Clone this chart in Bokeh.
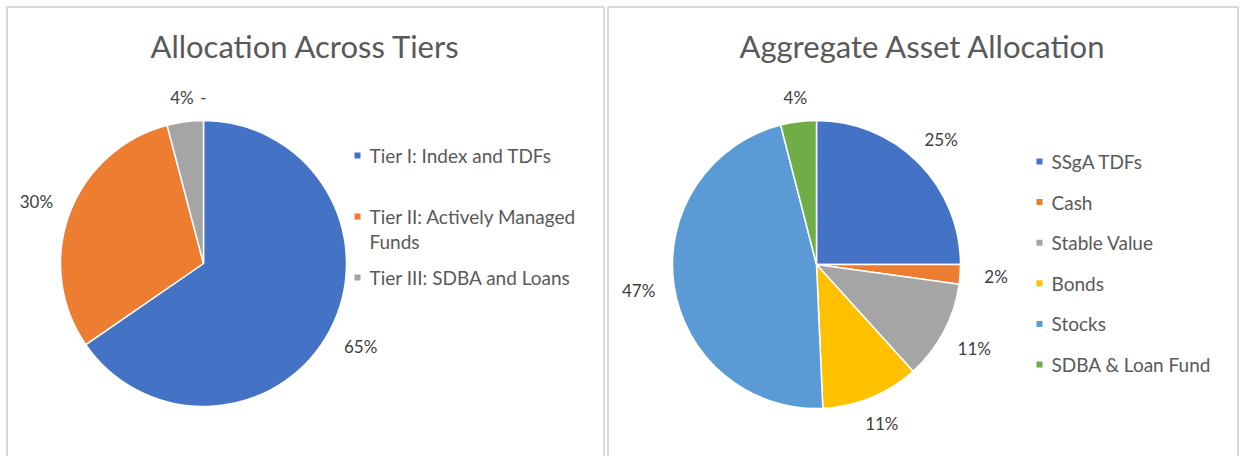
import math
import textwrap
from bokeh.plotting import figure
from bokeh.layouts import row
from bokeh.models import Range1d, ColumnDataSource
from bokeh.core.properties import value
from bokeh.embed import file_html
from bokeh.resources import INLINE

# ---------------- data ----------------
tier_title = "Allocation Across Tiers"
tier_names = ["Tier I: Index and TDFs", "Tier II: Actively Managed Funds", "Tier III: SDBA and Loans", ""]
tier_values = [65.4, 30.5, 4.1, 0.0]
tier_labels = ["65%", "30%", "4%", "-"]
tier_colors = ["#4472C4", "#ED7D31", "#A5A5A5", "#FFC000"]

asset_title = "Aggregate Asset Allocation"
asset_names = ["SSgA TDFs", "Cash", "Stable Value", "Bonds", "Stocks", "SDBA & Loan Fund"]
asset_values = [25.0, 2.2, 11.1, 11.0, 46.7, 4.0]
asset_labels = ["25%", "2%", "11%", "11%", "47%", "4%"]
asset_colors = ["#4472C4", "#ED7D31", "#A5A5A5", "#FFC000", "#5B9BD5", "#70AD47"]

FONT = "Lato"
H = 456


def make_panel(W, x0, title, names, values, labels, colors, cx, cy, r,
               leg_x, leg_y0, leg_step, wrap, line_h, right_border):
    p = figure(width=W, height=H, x_range=Range1d(0, W), y_range=Range1d(0, H),
               output_backend="svg", toolbar_location=None,
               x_axis_location=None, y_axis_location=None, min_border=0)
    p.grid.visible = False
    p.outline_line_color = None
    p.background_fill_color = "white"

    # panel border (left, top, right)
    p.multi_line(xs=[[x0, x0, right_border, right_border]],
                 ys=[[0, H - 6.5, H - 6.5, 0]],
                 line_color="#D9D9D9", line_width=2)

    total = sum(values)
    starts, ends, mids, cols = [], [], [], []
    cum = 0.0
    for v, col in zip(values, colors):
        f0 = cum / total
        cum += v
        f1 = cum / total
        mids.append((f0 + f1) / 2)
        if v > 0:
            starts.append(math.pi / 2 - 2 * math.pi * f0)
            ends.append(math.pi / 2 - 2 * math.pi * f1)
            cols.append(col)

    src = ColumnDataSource(dict(start=starts, end=ends, color=cols))
    p.wedge(x=cx, y=cy, radius=r, start_angle="start", end_angle="end",
            direction="clock", fill_color="color", line_color="white",
            line_width=1.5, source=src)

    # data labels (outside end)
    lx, ly = [], []
    for m in mids:
        a = 2 * math.pi * m
        s, c = math.sin(a), math.cos(a)
        d = r + 23 + 13 * abs(s)
        lx.append(cx + d * s)
        ly.append(cy + d * c)
    p.text(x=lx, y=ly, text=labels, text_font=value(FONT), text_font_size="17px",
           text_color="#404040", text_align="center", text_baseline="middle")

    # title
    p.text(x=[(x0 + right_border) / 2], y=[H - 45], text=[title], text_font=value(FONT),
           text_font_size="31px", text_color="#595959",
           text_align="center", text_baseline="middle")

    # legend
    mx, my, tx, ty, tt, mc = [], [], [], [], [], []
    y = leg_y0
    for name, col in zip(names, colors):
        if not name:
            continue
        lines = textwrap.wrap(name, wrap)
        mx.append(leg_x)
        my.append(y)
        mc.append(col)
        for i, ln in enumerate(lines):
            tx.append(leg_x + 12)
            ty.append(y - i * line_h)
            tt.append(ln)
        y -= leg_step
    p.scatter(x=mx, y=my, marker="square", size=6, fill_color=mc, line_color=None)
    p.text(x=tx, y=ty, text=tt, text_font=value(FONT), text_font_size="19px",
           text_color="#595959", text_align="left", text_baseline="middle")
    return p


p1 = make_panel(605, 6.5, tier_title, tier_names, tier_values, tier_labels, tier_colors,
                cx=203, cy=H - 263, r=143,
                leg_x=357, leg_y0=H - 155, leg_step=61, wrap=25, line_h=25,
                right_border=603.5)
p2 = make_panel(634, 1.5, asset_title, asset_names, asset_values, asset_labels, asset_colors,
                cx=210, cy=H - 264, r=144,
                leg_x=433, leg_y0=H - 161, leg_step=40.6, wrap=40, line_h=25,
                right_border=631.5)

layout = row(p1, p2, spacing=1)
open("out.html", "w").write(file_html(layout, INLINE))
